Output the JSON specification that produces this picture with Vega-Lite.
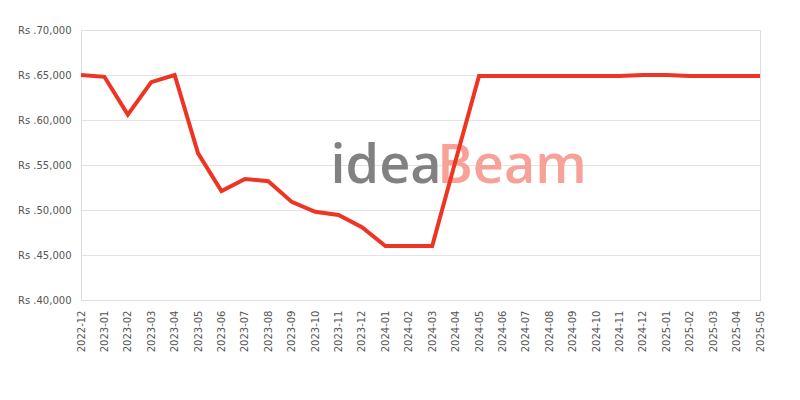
{
  "$schema": "https://vega.github.io/schema/vega-lite/v6.json",
  "width": 679,
  "height": 270,
  "autosize": {"type": "none"},
  "padding": {"left": 81, "top": 30, "right": 40, "bottom": 100},
  "background": "white",
  "config": {
    "view": {"stroke": "#dddddd", "strokeWidth": 1},
    "axis": {"labelFont": "DejaVu Sans", "labelFontSize": 10, "labelColor": "#555555", "ticks": false, "domainColor": "#dddddd", "gridColor": "#e3e3e3", "title": null}
  },
  "datasets": {
    "prices": [
      {"month": "2022-12", "price": 65000},
      {"month": "2023-01", "price": 64800},
      {"month": "2023-02", "price": 60600},
      {"month": "2023-03", "price": 64200},
      {"month": "2023-04", "price": 65000},
      {"month": "2023-05", "price": 56300},
      {"month": "2023-06", "price": 52100},
      {"month": "2023-07", "price": 53450},
      {"month": "2023-08", "price": 53200},
      {"month": "2023-09", "price": 50900},
      {"month": "2023-10", "price": 49800},
      {"month": "2023-11", "price": 49450},
      {"month": "2023-12", "price": 48100},
      {"month": "2024-01", "price": 46000},
      {"month": "2024-02", "price": 46000},
      {"month": "2024-03", "price": 46000},
      {"month": "2024-04", "price": 55500},
      {"month": "2024-05", "price": 64900},
      {"month": "2024-06", "price": 64900},
      {"month": "2024-07", "price": 64900},
      {"month": "2024-08", "price": 64900},
      {"month": "2024-09", "price": 64900},
      {"month": "2024-10", "price": 64900},
      {"month": "2024-11", "price": 64900},
      {"month": "2024-12", "price": 65000},
      {"month": "2025-01", "price": 65000},
      {"month": "2025-02", "price": 64900},
      {"month": "2025-03", "price": 64900},
      {"month": "2025-04", "price": 64900},
      {"month": "2025-05", "price": 64900}
    ],
    "watermark": [
      {"month": "2023-11", "price": 53000, "word": "idea", "part": "a"},
      {"month": "2024-03", "price": 53000, "word": "Beam", "part": "b"}
    ]
  },
  "layer": [
    {
      "data": {"name": "watermark"},
      "transform": [{"filter": "datum.part == 'a'"}],
      "mark": {"type": "text", "align": "left", "baseline": "alphabetic", "font": "Open Sans", "fontSize": 54, "fontWeight": 600, "dx": -8},
      "encoding": {
        "x": {"field": "month", "type": "ordinal", "scale": {"type": "point", "padding": 0}},
        "y": {"field": "price", "type": "quantitative"},
        "text": {"field": "word"},
        "color": {"field": "part", "type": "nominal", "scale": {"domain": ["a", "b"], "range": ["#818181", "#f8a199"]}, "legend": null}
      }
    },
    {
      "data": {"name": "watermark"},
      "transform": [{"filter": "datum.part == 'b'"}],
      "mark": {"type": "text", "align": "left", "baseline": "alphabetic", "font": "Open Sans", "fontSize": 54, "fontWeight": 600, "dx": 5},
      "encoding": {
        "x": {"field": "month", "type": "ordinal", "scale": {"type": "point", "padding": 0}},
        "y": {"field": "price", "type": "quantitative"},
        "text": {"field": "word"},
        "color": {"field": "part", "type": "nominal", "scale": {"domain": ["a", "b"], "range": ["#818181", "#f8a199"]}, "legend": null}
      }
    },
    {
      "data": {"name": "prices"},
      "mark": {"type": "line", "color": "#ee3524", "strokeWidth": 4},
      "encoding": {
        "x": {
          "field": "month", "type": "ordinal",
          "scale": {"type": "point", "padding": 0},
          "axis": {"labelAngle": -90, "labelPadding": 10, "grid": false}
        },
        "y": {
          "field": "price", "type": "quantitative",
          "scale": {"domain": [40000, 70000], "nice": false, "zero": false},
          "axis": {"values": [40000, 45000, 50000, 55000, 60000, 65000, 70000], "labelExpr": "'Rs .' + format(datum.value, ',')", "labelPadding": 10, "grid": true}
        }
      }
    }
  ]
}
